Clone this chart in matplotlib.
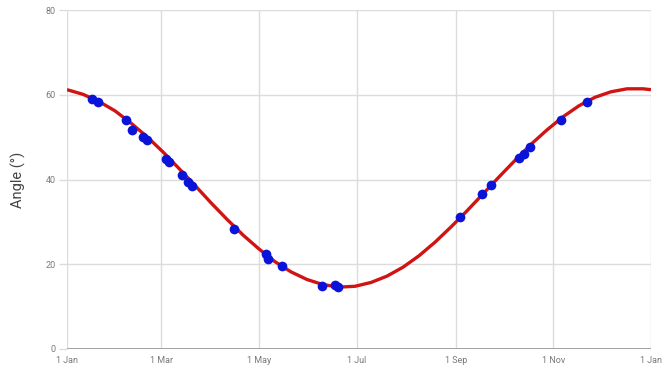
import matplotlib
matplotlib.use("Agg")
import matplotlib.pyplot as plt

# Fitted curve (day of year -> angle in degrees)
curve_day = [0, 10, 20, 30, 40, 50, 60, 70, 80, 90, 100, 110, 120, 130, 140, 150,
             160, 170, 180, 190, 200, 210, 220, 230, 240, 250, 260, 270, 280, 290,
             300, 310, 320, 330, 340, 350, 360, 365]
curve_angle = [61.2, 60.1, 58.4, 56.2, 53.3, 50.1, 46.5, 42.6, 38.6, 34.5, 30.6, 26.9,
               23.6, 20.6, 18.2, 16.4, 15.2, 14.6, 14.8, 15.7, 17.2, 19.3, 22.0, 25.2,
               28.8, 32.6, 36.6, 40.6, 44.5, 48.3, 51.7, 54.8, 57.4, 59.4, 60.7, 61.4,
               61.4, 61.2]

# Measured points
obs_day = [15.4, 19.6, 36.7, 40.4, 47.7, 50.2, 61.9, 63.9, 71.7, 75.8, 77.9,
           104.4, 124.4, 125.8, 134.6, 159.6, 167.5, 169.2,
           245.6, 259.6, 264.8, 282.7, 285.6, 289.4, 308.8, 324.8]
obs_angle = [58.9, 58.3, 54.0, 51.7, 50.1, 49.3, 44.9, 44.2, 41.0, 39.5, 38.5,
             28.3, 22.4, 21.2, 19.6, 14.9, 15.1, 14.7,
             31.2, 36.6, 38.8, 45.1, 46.0, 47.7, 54.0, 58.3]

x_ticks = [0, 59, 120, 181, 243, 304, 365]
x_labels = ["1 Jan", "1 Mar", "1 May", "1 Jul", "1 Sep", "1 Nov", "1 Jan"]
y_ticks = [0, 20, 40, 60, 80]

plt.rcParams['font.family'] = ['Roboto', 'DejaVu Sans']

fig = plt.figure(figsize=(6.64, 3.69), dpi=100)
ax = fig.add_axes([67/664, 1-349/369, (651-67)/664, (349-10)/369])

grid_c = "#dcdcdc"
for x in x_ticks:
    ax.axvline(x, color=grid_c, lw=1.0, zorder=0)
for y in y_ticks[1:]:
    ax.axhline(y, color=grid_c, lw=1.0, zorder=0)
ax.axhline(0, color="#9a9a9a", lw=1.3, zorder=1)

ax.plot(curve_day, curve_angle, color="#d01414", lw=2.4, zorder=2,
        solid_capstyle="butt", solid_joinstyle="round")
ax.plot(obs_day, obs_angle, linestyle="none", marker="o", markersize=7,
        color="#0a14d8", markeredgewidth=0, zorder=3)

ax.set_xlim(0, 365)
ax.set_ylim(0, 80)
ax.set_xticks(x_ticks)
ax.set_xticklabels(x_labels)
ax.set_yticks(y_ticks)
for s in ax.spines.values():
    s.set_visible(False)
ax.tick_params(axis="y", length=6, width=1.0, color=grid_c, pad=2,
               labelsize=6.5, labelcolor="#7a7a7a")
ax.tick_params(axis="x", length=0, pad=5, labelsize=6.5, labelcolor="#7a7a7a")
ax.set_ylabel("Angle (°)", fontsize=10.5, color="#444444", labelpad=14)

fig.savefig("out.png", dpi=100)
